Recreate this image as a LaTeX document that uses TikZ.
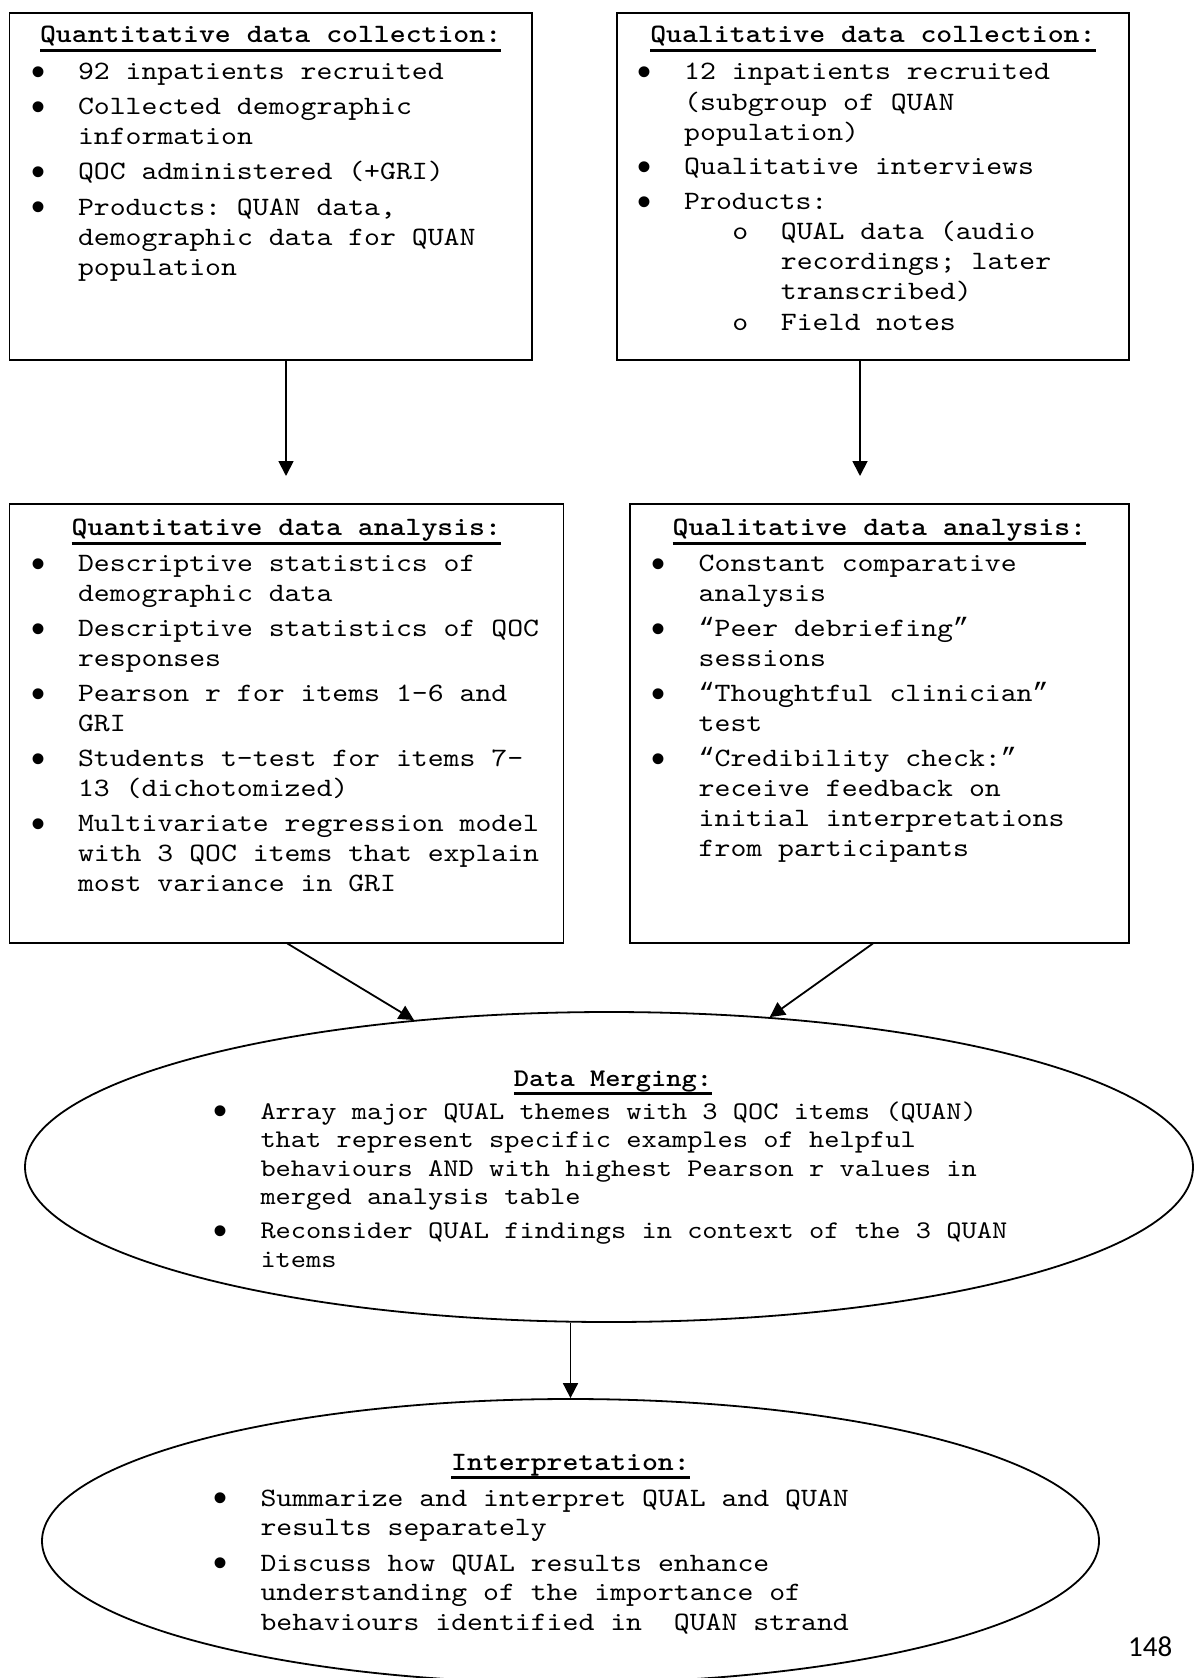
\documentclass[tikz,border=0pt]{standalone}
\usepackage{fontspec}
\setmainfont{Liberation Serif}
\setmonofont{lmmono10-regular.otf}[BoldFont=lmmonolt10-bold.otf, FakeStretch=1.143]
\newfontfamily\bulfont{Liberation Sans}
\newfontfamily\quotefont{Liberation Mono}
\newfontfamily\pgfont{Carlito}
\usetikzlibrary{arrows.meta,shapes.geometric}

\newlength\ind
\newcommand\bulletmark{\smash{\raisebox{-5.5pt}{\bulfont\fontsize{40}{40}\selectfont\textbullet}}}
\newcommand\oq{{\quotefont “}}
\newcommand\cq{{\quotefont ”}}
\newcommand\bitem[1]{\par\noindent\hangindent=\ind\hangafter=1\makebox[\ind][l]{\bulletmark}#1}
\newcommand\sitem[1]{\par\vspace{-\parskip}\noindent\hangindent=143.1pt\hangafter=1\makebox[143.1pt][l]{\hspace*{94.6pt}o}#1}
\newcommand\ulhead[1]{\setbox0\hbox{#1}\rlap{\vrule height -6pt depth 9pt width \wd0}\box0}
\newenvironment{blist}[2]{\begin{minipage}[t]{900pt}\setlength\ind{#1}\setlength\parskip{#2}}{\end{minipage}}

\tikzset{
  box/.style={draw, line width=1.8pt, inner sep=0pt, anchor=north west},
  oval/.style={draw, ellipse, line width=1.8pt, inner sep=0pt},
  arr/.style={-{Triangle[length=15pt,width=15pt]}, line width=1.8pt},
  head/.style={inner sep=0pt, anchor=base, font=\ttfamily\bfseries\fontsize{26.5}{30}\selectfont},
  headsm/.style={inner sep=0pt, anchor=base, font=\ttfamily\bfseries\fontsize{25.4}{28.5}\selectfont},
  body/.style={inner sep=0pt, anchor=base west, font=\ttfamily\fontsize{26.5}{30}\selectfont},
  bodysm/.style={inner sep=0pt, anchor=base west, font=\ttfamily\fontsize{25.4}{28.5}\selectfont},
  bodyint/.style={inner sep=0pt, anchor=base west, font=\ttfamily\fontsize{26.5}{29.7}\selectfont}
}

\begin{document}
\begin{tikzpicture}[x=1pt, y=-1pt]
\useasboundingbox (0,0) rectangle (1194,1678);

% boxes
\node[box, minimum width=522.5pt, minimum height=347.2pt] (b1) at (8.5,11.8) {};
\node[box, minimum width=512pt, minimum height=347.2pt] (b2) at (616,11.8) {};
\node[box, minimum width=554pt, minimum height=438.7pt] (b3) at (8.5,503) {};
\node[box, minimum width=499pt, minimum height=438.7pt] (b4) at (629,503) {};

% ellipses
\node[oval, minimum width=1168pt, minimum height=310pt] (e1) at (609,1167) {};
\node[oval, minimum width=1057pt, minimum height=284pt] (e2) at (570.5,1541) {};

% headings
\node[head] (h1) at ([yshift=-31.2pt]b1.north) {\ulhead{Quantitative data collection:}};
\node[head] (h2) at ([yshift=-31.2pt]b2.north) {\ulhead{Qualitative data collection:}};
\node[head] (h3) at ([yshift=-32.5pt]b3.north) {\ulhead{Quantitative data analysis:}};
\node[head] (h4) at ([yshift=-32.5pt]b4.north) {\ulhead{Qualitative data analysis:}};
\node[headsm] (h5) at (613,1086) {\ulhead{Data Merging:}};
\node[head] (h6) at (570.5,1470) {\ulhead{Interpretation:}};

% lists
\node[body] (l1) at (31,80) {\begin{blist}{46.8pt}{5pt}%
\bitem{92 inpatients recruited}
\bitem{Collected demographic\newline information}
\bitem{QOC administered (+GRI)}
\bitem{Products: QUAN data,\newline demographic data for QUAN\newline population}
\end{blist}};

\node[body] (l2) at (637.6,80) {\begin{blist}{46.4pt}{5pt}%
\bitem{12 inpatients recruited\newline (subgroup of QUAN\newline population)}
\bitem{Qualitative interviews}
\bitem{Products:}
\sitem{QUAL data (audio\newline recordings; later\newline transcribed)}
\sitem{Field notes}
\end{blist}};

\node[body] (l3) at (31,571.7) {\begin{blist}{46.8pt}{5pt}%
\bitem{Descriptive statistics of\newline demographic data}
\bitem{Descriptive statistics of QOC\newline responses}
\bitem{Pearson r for items 1-6 and\newline GRI}
\bitem{Students t-test for items 7-\newline 13 (dichotomized)}
\bitem{Multivariate regression model\newline with 3 QOC items that explain\newline most variance in GRI}
\end{blist}};

\node[body] (l4) at (651,571.7) {\begin{blist}{47.5pt}{5pt}%
\bitem{Constant comparative\newline analysis}
\bitem{\oq Peer debriefing\cq\newline sessions}
\bitem{\oq Thoughtful clinician\cq\newline test}
\bitem{\oq Credibility check:\cq\newline receive feedback on\newline initial interpretations\newline from participants}
\end{blist}};

\node[bodysm] (l5) at (213.3,1119) {\begin{blist}{47pt}{5.5pt}%
\bitem{Array major QUAL themes with 3 QOC items (QUAN)\newline that represent specific examples of helpful\newline behaviours AND with highest Pearson r values in\newline merged analysis table}
\bitem{Reconsider QUAL findings in context of the 3 QUAN\newline items}
\end{blist}};

\node[bodyint] (l6) at (213.3,1506) {\begin{blist}{47pt}{5.8pt}%
\bitem{Summarize and interpret QUAL and QUAN\newline results separately}
\bitem{Discuss how QUAL results enhance\newline understanding of the importance of\newline behaviours identified in\ \ QUAN strand}
\end{blist}};

% page number
\node[inner sep=0pt, anchor=base west, font=\pgfont\fontsize{29}{30}\selectfont] (pg) at (1128,1656.5) {148};

% connectors
\coordinate (t1) at (286,476);
\coordinate (t2) at (860,476);
\draw[arr] (b1.south -| t1) -- (t1);
\draw[arr] (b2.south -| t2) -- (t2);
\draw[arr] ([xshift=1pt]b3.south) -- (e1.143.8);
\draw[arr] ([xshift=-6.5pt]b4.south) -- (e1.43.3);
\draw[arr] (e1.south -| e2.north) -- (e2.north);
\end{tikzpicture}
\end{document}
